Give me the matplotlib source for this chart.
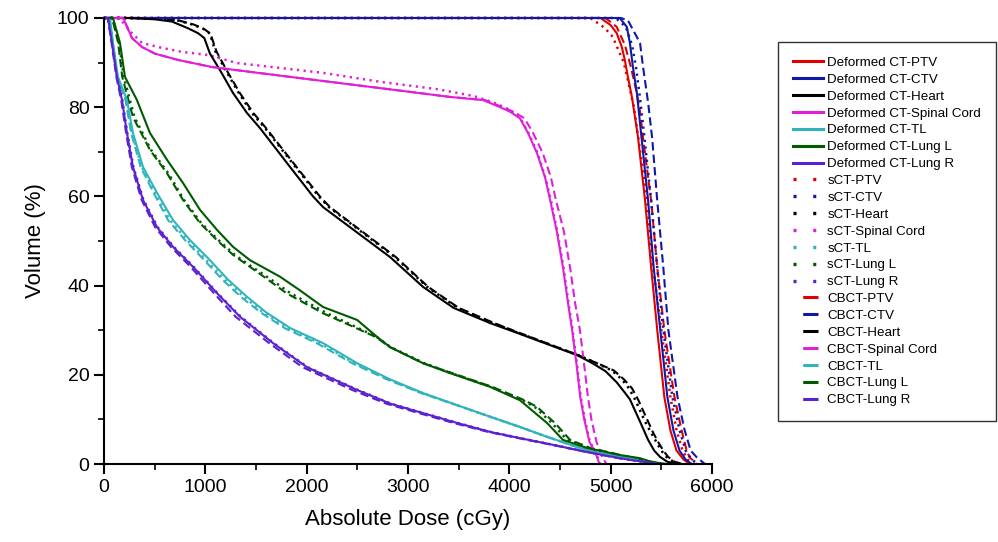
import matplotlib
matplotlib.use('Agg')
import matplotlib.pyplot as plt
from matplotlib import font_manager
from matplotlib.lines import Line2D
from matplotlib.ticker import MultipleLocator

# Dose-volume histogram data (dose in cGy, volume in %)
# PTV
ptv_def_vol = [100, 100, 98.4, 96.6, 93.5, 90.6, 86.8, 82.3, 77.8, 73.3, 59, 44, 30, 15, 7.5, 3, 1, 0]
ptv_def_dose = [0, 4900, 5000, 5060, 5110, 5140, 5170, 5210, 5240, 5270, 5340, 5400, 5460, 5530, 5590, 5650, 5720, 5780]
ptv_sct_vol = [100, 100, 97.8, 95.8, 90, 80, 59, 44, 30, 15, 7.6, 3, 1, 0]
ptv_sct_dose = [0, 4800, 4940, 5020, 5130, 5230, 5360, 5420, 5500, 5590, 5650, 5710, 5760, 5820]
ptv_cbct_vol = [100, 100, 98, 94, 89, 84, 79, 73, 59, 44, 30, 15, 7.6, 3, 1.5, 0]
ptv_cbct_dose = [0, 4950, 5060, 5140, 5200, 5250, 5290, 5320, 5400, 5460, 5530, 5630, 5700, 5750, 5780, 5850]

# CTV
ctv_def_vol = [100, 100, 98, 94.4, 89, 83, 76.4, 59, 44, 30, 15, 7.5, 3, 1, 0]
ctv_def_dose = [0, 5090, 5160, 5190, 5220, 5260, 5290, 5370, 5425, 5490, 5560, 5620, 5680, 5740, 5800]
ctv_sct_vol = [100, 100, 98, 94, 89, 82, 76, 59, 44, 30, 15, 7.6, 3, 1, 0]
ctv_sct_dose = [0, 5050, 5150, 5210, 5250, 5290, 5320, 5400, 5460, 5520, 5610, 5680, 5740, 5800, 5860]
ctv_cbct_vol = [100, 100, 99.5, 94.4, 89, 81, 73, 59, 44, 30, 15, 7.6, 3, 1.5, 0]
ctv_cbct_dose = [0, 5100, 5170, 5290, 5320, 5370, 5410, 5460, 5520, 5570, 5660, 5730, 5790, 5850, 5930]

# Heart
heart_def_vol = [100, 100, 99.7, 99.2, 97.7, 96.6, 95.5, 92, 88.3, 83.2, 78.7, 75.3, 66.6, 60, 57.6, 46.4,
                 39.7, 35, 31.6, 29.4, 24.4, 22.6, 20.8, 18.3, 16, 14.5, 12, 9.5, 5.4, 3, 1.6, 0.5, 0]
heart_def_dose = [0, 240, 503, 671, 829, 928, 990, 1046, 1145, 1273, 1411, 1540, 1836, 2063, 2162, 2823,
                  3149, 3450, 3810, 4077, 4670, 4820, 4950, 5060, 5140, 5190, 5240, 5290, 5370, 5430,
                  5487, 5560, 5660]
heart_sct_vol = [100, 100, 99.8, 99.5, 98.5, 97.5, 96.5, 92.5, 88.3, 83.2, 78.7, 75.3, 66.6, 60, 57.6, 46.4,
                 39.7, 35, 31.6, 29.4, 24.4, 22.6, 21, 19, 17, 14.5, 12, 9.5, 7, 5, 3, 1.6, 0.5, 0]
heart_sct_dose = [0, 300, 540, 720, 880, 985, 1045, 1100, 1200, 1330, 1460, 1590, 1890, 2120, 2220, 2870,
                  3190, 3490, 3840, 4090, 4680, 4860, 5010, 5110, 5180, 5240, 5290, 5340, 5400, 5450,
                  5500, 5550, 5620, 5690]
heart_cbct_vol = heart_sct_vol
heart_cbct_dose = [0, 300, 560, 730, 890, 990, 1050, 1110, 1210, 1340, 1474, 1600, 1900, 2130, 2230, 2880,
                   3200, 3500, 3850, 4100, 4680, 4866, 5030, 5130, 5210, 5270, 5320, 5370, 5420, 5467,
                   5520, 5567, 5630, 5710]

# Spinal cord
cord_def_vol = [100, 100, 95.5, 93.5, 92, 90.6, 89, 86.8, 84, 82.3, 81.6, 80, 79, 77.5, 74.2, 69.7, 64.3,
                59.2, 52, 44, 36, 30, 22, 15, 10, 5, 2.5, 0]
cord_def_dose = [0, 190, 276, 375, 503, 730, 1066, 1836, 2823, 3415, 3740, 3909, 4006, 4105, 4185, 4273,
                 4352, 4403, 4470, 4530, 4580, 4620, 4665, 4700, 4740, 4790, 4850, 4890]
cord_sct_vol = [100, 100, 96.6, 94.4, 93.3, 92.4, 91.7, 89.9, 88.8, 87.7, 85.7, 84, 82.5, 81, 79.5, 77.5,
                74.2, 69.7, 64.3, 59.2, 52, 44, 36, 30, 22, 15, 10, 5, 2.5, 0]
cord_sct_dose = [0, 150, 276, 375, 570, 770, 1030, 1312, 1737, 2161, 2724, 3300, 3650, 3850, 4000, 4110,
                 4190, 4280, 4355, 4410, 4475, 4535, 4585, 4625, 4670, 4705, 4745, 4795, 4855, 4895]
cord_cbct_vol = [100, 100, 95.5, 93.5, 92, 90.6, 89, 86.8, 84, 82.3, 81.6, 80, 79, 77.5, 74.2, 69.7, 64.3,
                 59.2, 52, 44, 36, 30, 22, 15, 10, 5, 1.6, 0]
cord_cbct_dose = [0, 190, 276, 375, 503, 730, 1066, 1836, 2823, 3415, 3760, 3935, 4040, 4150, 4235, 4330,
                  4410, 4460, 4540, 4600, 4650, 4697, 4740, 4776, 4810, 4860, 4915, 4960]

# TL
tl_def_vol = [100, 100, 94.4, 86.8, 81.6, 74.2, 66.6, 60.8, 54.7, 50.2, 45.7, 41.3, 37.5, 34, 30.5, 27.1,
              22.6, 19, 15.9, 13.2, 10.6, 8.3, 6.1, 3.8, 2.5, 1.3, 0]
tl_def_dose = [0, 59, 89, 138, 227, 286, 385, 523, 681, 849, 1046, 1225, 1411, 1600, 1836, 2162, 2498,
               2820, 3149, 3485, 3810, 4105, 4372, 4670, 4866, 5190, 5380]
tl_sct_vol = tl_def_vol
tl_sct_dose = [0, 57, 85, 132, 218, 275, 372, 505, 650, 820, 1010, 1195, 1380, 1570, 1805, 2130, 2470,
               2810, 3140, 3480, 3810, 4105, 4372, 4670, 4870, 5200, 5390]
tl_cbct_vol = tl_def_vol
tl_cbct_dose = [0, 55, 82, 128, 212, 268, 362, 490, 632, 800, 990, 1170, 1350, 1545, 1780, 2100, 2450,
                2790, 3130, 3480, 3810, 4105, 4372, 4670, 4880, 5200, 5400]

# Lung L
lungl_def_vol = [100, 100, 94.4, 86.8, 81.6, 74.2, 68.2, 63, 57, 52.5, 48.7, 45.7, 42, 39, 35.2, 32.3,
                 28.5, 26.2, 22.6, 20.5, 17.3, 14.3, 9.2, 5.4, 3.6, 2, 1.3, 0.5, 0]
lungl_def_dose = [0, 89, 158, 207, 325, 454, 622, 780, 947, 1115, 1273, 1441, 1737, 1930, 2162, 2498,
                  2695, 2823, 3149, 3400, 3810, 4105, 4372, 4530, 4766, 5092, 5290, 5400, 5550]
lungl_sct_vol = [100, 100, 94.4, 86.8, 77.8, 70.4, 65.2, 59.2, 54, 50.2, 46.9, 44.2, 41.5, 38.3, 33.8,
                 30.8, 28.5, 26.2, 22.6, 20.5, 17.3, 14.3, 12.8, 9.2, 5.4, 3.6, 2, 1, 0]
lungl_sct_dose = [0, 85, 150, 195, 300, 465, 635, 790, 960, 1130, 1290, 1460, 1640, 1840, 2200, 2480,
                  2690, 2830, 3160, 3410, 3820, 4130, 4250, 4420, 4570, 4780, 5090, 5300, 5500]
lungl_cbct_vol = lungl_sct_vol
lungl_cbct_dose = [0, 80, 140, 180, 286, 454, 622, 780, 947, 1115, 1273, 1441, 1608, 1800, 2162, 2457,
                   2680, 2823, 3149, 3420, 3830, 4150, 4273, 4450, 4600, 4800, 5100, 5300, 5500]

# Lung R
lungr_def_vol = [100, 100, 94.4, 86.8, 81.6, 74.2, 66.6, 59.2, 53.1, 48.7, 44.2, 38.3, 33, 27.1, 21.7,
                 16.6, 13.5, 11.4, 9.2, 7.2, 5.8, 4.3, 2.7, 1.3, 0.4, 0]
lungr_def_dose = [0, 40, 79, 128, 178, 227, 286, 385, 523, 681, 879, 1115, 1343, 1668, 2004, 2498, 2830,
                  3149, 3485, 3810, 4105, 4431, 4766, 5092, 5350, 5500]
lungr_sct_vol = lungr_def_vol
lungr_sct_dose = [0, 40, 80, 130, 180, 230, 290, 390, 530, 688, 885, 1120, 1350, 1675, 2010, 2505, 2835,
                  3155, 3490, 3815, 4110, 4435, 4770, 5100, 5360, 5500]
lungr_cbct_vol = lungr_def_vol
lungr_cbct_dose = [0, 38, 75, 122, 170, 218, 275, 372, 505, 660, 855, 1085, 1300, 1630, 1960, 2450, 2790,
                   3110, 3450, 3790, 4090, 4420, 4760, 5080, 5350, 5520]

structures = ['PTV', 'CTV', 'Heart', 'Spinal Cord', 'TL', 'Lung L', 'Lung R']
colors = ['#e00000', '#1018a8', '#000000', '#e020d8', '#30b4bc', '#005a00', '#5a22d0']

deformed = [(ptv_def_dose, ptv_def_vol), (ctv_def_dose, ctv_def_vol), (heart_def_dose, heart_def_vol),
            (cord_def_dose, cord_def_vol), (tl_def_dose, tl_def_vol), (lungl_def_dose, lungl_def_vol),
            (lungr_def_dose, lungr_def_vol)]
sct = [(ptv_sct_dose, ptv_sct_vol), (ctv_sct_dose, ctv_sct_vol), (heart_sct_dose, heart_sct_vol),
       (cord_sct_dose, cord_sct_vol), (tl_sct_dose, tl_sct_vol), (lungl_sct_dose, lungl_sct_vol),
       (lungr_sct_dose, lungr_sct_vol)]
cbct = [(ptv_cbct_dose, ptv_cbct_vol), (ctv_cbct_dose, ctv_cbct_vol), (heart_cbct_dose, heart_cbct_vol),
        (cord_cbct_dose, cord_cbct_vol), (tl_cbct_dose, tl_cbct_vol), (lungl_cbct_dose, lungl_cbct_vol),
        (lungr_cbct_dose, lungr_cbct_vol)]

# Narrow sans font if it is installed
installed = {f.name for f in font_manager.fontManager.ttflist}
font = 'Liberation Sans Narrow' if 'Liberation Sans Narrow' in installed else 'Liberation Sans'
plt.rcParams['font.family'] = [font, 'DejaVu Sans']
plt.rcParams['lines.scale_dashes'] = False

fig = plt.figure(figsize=(9.98, 5.42), dpi=100)
ax = fig.add_axes([0.1042, 0.1439, 0.6092, 0.8229])

sct_style = (0, (1.6, 3.2))
cbct_style = (0, (6, 3))

# CBCT curves first, then sCT, then the deformed CT on top
for (dose, vol), color in zip(cbct, colors):
    ax.plot(dose, vol, color=color, linestyle=cbct_style, linewidth=1.5, clip_on=False)
for (dose, vol), color in zip(sct, colors):
    ax.plot(dose, vol, color=color, linestyle=sct_style, linewidth=1.8, clip_on=False)
for (dose, vol), color in zip(deformed, colors):
    ax.plot(dose, vol, color=color, linestyle='-', linewidth=1.5, clip_on=False)

ax.set_xlim(0, 6000)
ax.set_ylim(0, 100)
ax.xaxis.set_major_locator(MultipleLocator(1000))
ax.xaxis.set_minor_locator(MultipleLocator(500))
ax.yaxis.set_major_locator(MultipleLocator(20))
ax.yaxis.set_minor_locator(MultipleLocator(10))
ax.tick_params(which='major', direction='out', length=7, width=1.5, labelsize=14)
ax.tick_params(which='minor', direction='out', length=4, width=1.2)
for side in ['top', 'right']:
    ax.spines[side].set_visible(False)
for side in ['left', 'bottom']:
    ax.spines[side].set_linewidth(1.5)

ax.set_xlabel('Absolute Dose (cGy)', fontsize=16, labelpad=10)
ax.set_ylabel('Volume (%)', fontsize=16, labelpad=8)

# Legend with one handle per series
handles, labels = [], []
for name, color in zip(structures, colors):
    handles.append(Line2D([], [], color=color, linestyle='-', linewidth=2.2))
    labels.append('Deformed CT-' + name)
for name, color in zip(structures, colors):
    handles.append(Line2D([], [], color=color, linestyle=(0, (2.2, 12)), linewidth=2.4))
    labels.append('sCT-' + name)
for name, color in zip(structures, colors):
    handles.append(Line2D([], [], color=color, linestyle=(34, (11, 30)), linewidth=2.2))
    labels.append('CBCT-' + name)

leg = fig.legend(handles, labels, loc='upper left', bbox_to_anchor=(0.7796, 0.9225),
                 fontsize=9.6, frameon=True, fancybox=False, edgecolor='black',
                 handlelength=2.3, handletextpad=0.3, labelspacing=0.34, borderpad=1.1,
                 borderaxespad=0)
leg.get_frame().set_linewidth(1.0)

plt.savefig('out.png', dpi=100)
plt.close('all')
